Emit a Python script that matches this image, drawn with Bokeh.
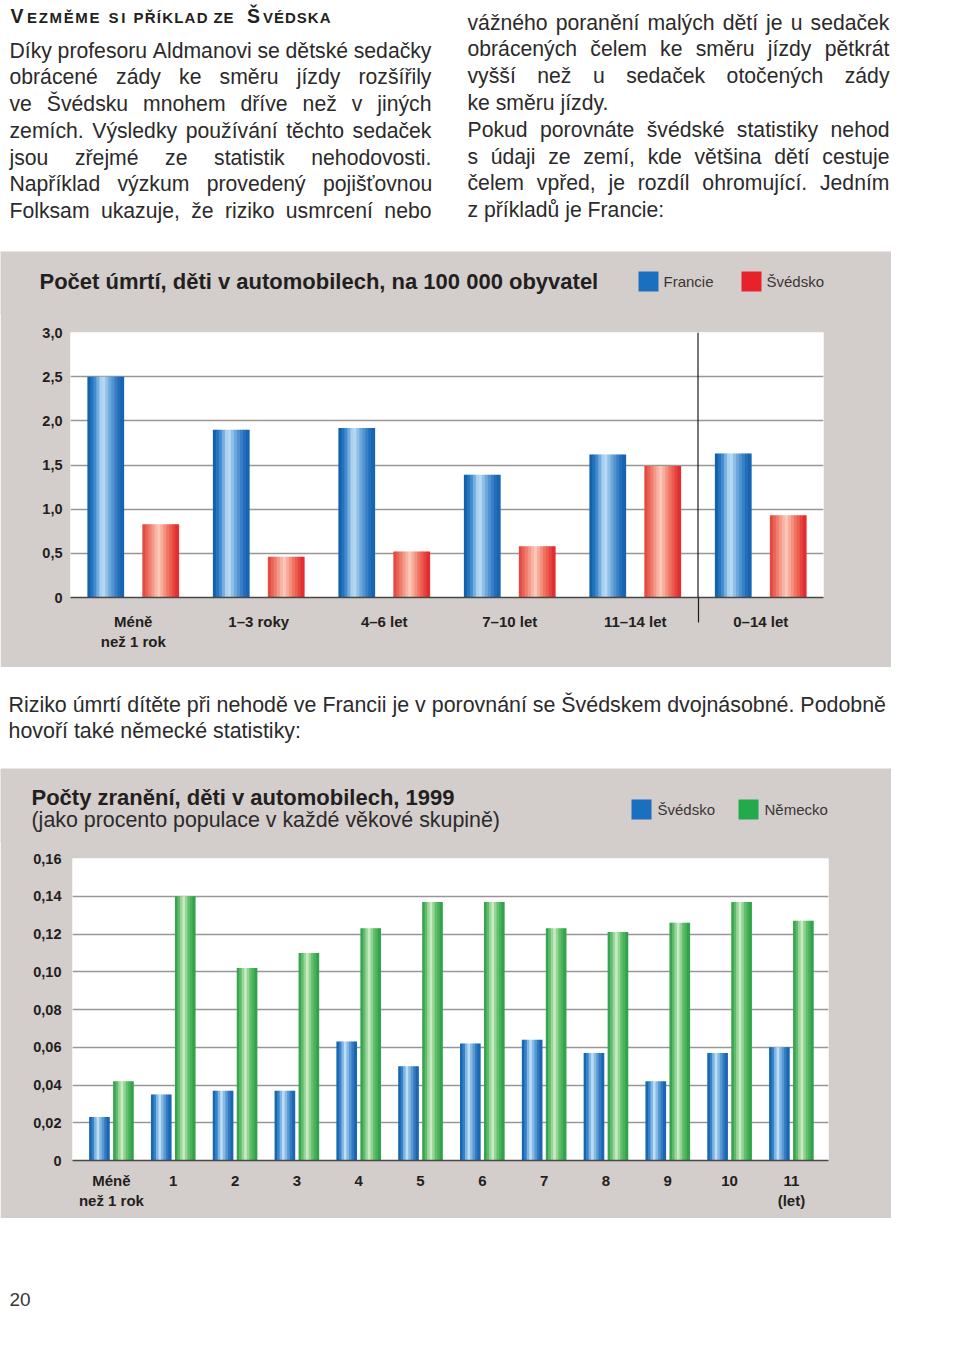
import unicodedata
from bokeh.plotting import figure
from bokeh.models import Range1d, FixedTicker, Span
from bokeh.core.properties import value
from bokeh.embed import file_html
from bokeh.resources import INLINE

# ------------------------------------------------------------------ data
heading_parts = ["V", "EZMĚME", "SI", "PŘÍKLAD", "ZE", "Š", "VÉDSKA"]
heading_big = [True, False, False, False, False, True, False]

left_lines = [
    "Díky profesoru Aldmanovi se dětské sedačky",
    "obrácené zády ke směru jízdy rozšířily",
    "ve Švédsku mnohem dříve než v jiných",
    "zemích. Výsledky používání těchto sedaček",
    "jsou zřejmé ze statistik nehodovosti.",
    "Například výzkum provedený pojišťovnou",
    "Folksam ukazuje, že riziko usmrcení nebo",
]
left_justify = [True, True, True, True, True, True, True]

right_lines = [
    "vážného poranění malých dětí je u sedaček",
    "obrácených čelem ke směru jízdy pětkrát",
    "vyšší než u sedaček otočených zády",
    "ke směru jízdy.",
    "Pokud porovnáte švédské statistiky nehod",
    "s údaji ze zemí, kde většina dětí cestuje",
    "čelem vpřed, je rozdíl ohromující. Jedním",
    "z příkladů je Francie:",
]
right_justify = [True, True, True, False, True, True, True, False]

middle_lines = [
    "Riziko úmrtí dítěte při nehodě ve Francii je v porovnání se Švédskem dvojnásobné. Podobně",
    "hovoří také německé statistiky:",
]
page_number = "20"

c1_title = "Počet úmrtí, děti v automobilech, na 100 000 obyvatel"
c1_categories = ["Méně\nnež 1 rok", "1–3 roky", "4–6 let", "7–10 let", "11–14 let", "0–14 let"]
c1_series = ["Francie", "Švédsko"]
c1_francie = [2.50, 1.90, 1.92, 1.39, 1.62, 1.63]
c1_svedsko = [0.83, 0.46, 0.52, 0.58, 1.49, 0.93]
c1_yticks = [0.0, 0.5, 1.0, 1.5, 2.0, 2.5, 3.0]
c1_ylabels = ["0", "0,5", "1,0", "1,5", "2,0", "2,5", "3,0"]
c1_separator = 5.0   # boundary between age groups and the 0–14 total

c2_title = "Počty zranění, děti v automobilech, 1999"
c2_subtitle = "(jako procento populace v každé věkové skupině)"
c2_categories = ["Méně\nnež 1 rok", "1", "2", "3", "4", "5", "6", "7", "8", "9", "10", "11\n(let)"]
c2_series = ["Švédsko", "Německo"]
c2_svedsko = [0.023, 0.035, 0.037, 0.037, 0.063, 0.050, 0.062, 0.064, 0.057, 0.042, 0.057, 0.060]
c2_nemecko = [0.042, 0.140, 0.102, 0.110, 0.123, 0.137, 0.137, 0.123, 0.121, 0.126, 0.137, 0.127]
c2_yticks = [0.0, 0.02, 0.04, 0.06, 0.08, 0.10, 0.12, 0.14, 0.16]
c2_ylabels = ["0", "0,02", "0,04", "0,06", "0,08", "0,10", "0,12", "0,14", "0,16"]

# ------------------------------------------------------------------ styles
FONT_NAME = "Liberation Sans"
FONT = value(FONT_NAME)
TEXT_COL = "#2c2a2a"
DARK = "#231f20"
PANEL = "#d3cdcb"
GRID = "#9a9696"
AXIS = "#4a4646"
BLUE = "#1a6fbf"
RED = "#e8222b"
GREEN = "#22aa4c"
BLUE_STOPS = [(0.0, "#0b58a3"), (0.18, "#2f7fc8"), (0.42, "#c6e3f8"), (0.62, "#6ea9dc"), (0.85, "#2571bd"), (1.0, "#125fab")]
RED_STOPS = [(0.0, "#e23c38"), (0.2, "#ef7a6a"), (0.45, "#fccbbd"), (0.72, "#f0705c"), (1.0, "#e0212a")]
GREEN_STOPS = [(0.0, "#279843"), (0.2, "#62bd6c"), (0.42, "#cfeeca"), (0.68, "#63c06c"), (1.0, "#279b44")]

REG = {" ": 278, ",": 278, ".": 278, ":": 278, "(": 333, ")": 333, "–": 556, "-": 333,
       "A": 667, "B": 667, "C": 722, "D": 722, "E": 667, "F": 611, "G": 778, "H": 722, "I": 278,
       "J": 500, "K": 667, "L": 556, "M": 833, "N": 722, "O": 778, "P": 667, "Q": 778, "R": 722,
       "S": 667, "T": 611, "U": 722, "V": 667, "W": 944, "X": 667, "Y": 667, "Z": 611,
       "a": 556, "b": 556, "c": 500, "d": 556, "e": 556, "f": 278, "g": 556, "h": 556, "i": 222,
       "j": 222, "k": 500, "l": 222, "m": 833, "n": 556, "o": 556, "p": 556, "q": 556, "r": 333,
       "s": 500, "t": 278, "u": 556, "v": 500, "w": 722, "x": 500, "y": 500, "z": 500,
       "í": 278, "ť": 340, "ď": 600}
BOLD = {"A": 722, "B": 722, "C": 722, "D": 722, "E": 667, "F": 611, "G": 778, "H": 722, "I": 278,
        "J": 556, "K": 722, "L": 611, "M": 833, "N": 722, "O": 778, "P": 667, "Q": 778, "R": 722,
        "S": 667, "T": 611, "U": 722, "V": 667, "W": 944, "X": 667, "Y": 667, "Z": 611, " ": 278}


def char_w(ch, table):
    if ch in table:
        return table[ch]
    base = unicodedata.normalize("NFD", ch)[0]
    return table.get(base, 556)


def spread(tokens, x0, x1, size, table):
    ws = [sum(char_w(c, table) for c in t) * size / 1000.0 for t in tokens]
    if len(tokens) == 1:
        return [x0]
    gap = (x1 - x0 - sum(ws)) / (len(tokens) - 1)
    xs, x = [], x0
    for w in ws:
        xs.append(x)
        x += w + gap
    return xs


def hexrgb(h):
    return tuple(int(h[i:i + 2], 16) for i in (1, 3, 5))


def grad(stops, t):
    for (t0, c0), (t1, c1) in zip(stops[:-1], stops[1:]):
        if t0 <= t <= t1:
            f = (t - t0) / (t1 - t0)
            a, b = hexrgb(c0), hexrgb(c1)
            return "#%02x%02x%02x" % tuple(int(round(a[i] + (b[i] - a[i]) * f)) for i in range(3))
    return stops[-1][1]


def page_fig(x0, x1, y0, y1, bg="white"):
    f = figure(width=int(x1 - x0), height=int(y1 - y0), x_range=Range1d(x0, x1), y_range=Range1d(y1, y0),
               output_backend="svg", toolbar_location=None, x_axis_type=None, y_axis_type=None,
               min_border=0, min_border_left=0, min_border_right=0, min_border_top=0, min_border_bottom=0,
               background_fill_color=bg, border_fill_color=bg, outline_line_color=None)
    f.grid.visible = False
    return f


def txt(f, x, y, s, size, color=TEXT_COL, style="normal", align="left"):
    f.text(x=x if isinstance(x, list) else [x], y=y if isinstance(y, list) else [y],
           text=s if isinstance(s, list) else [s], text_font=FONT, text_font_size=value(f"{size}px"),
           text_font_style=style, text_color=color, text_baseline="alphabetic", text_align=align)


def bars(p, xs, tops, width, stops, n=12):
    for k in range(n):
        t = (k + 0.5) / n
        off = (t - 0.5) * width
        p.vbar(x=[x + off for x in xs], top=tops, bottom=0, width=width / n * 1.25,
               fill_color=grad(stops, t), line_color=None)


PAGE_W = 940

# ------------------------------------------------------------------ top text
BODY = 21.2
top = page_fig(0, PAGE_W, 0, 251)
head_pos = [(10, None), (26.5, 99), (108, 125), (133, 207), (213, 233), (246.5, None), (262.5, 330)]
for part, big, (hx0, hx1) in zip(heading_parts, heading_big, head_pos):
    if big:
        txt(top, hx0, 15.5, part, 19.5, DARK, "bold")
    else:
        xs = spread(list(part), hx0, hx1, 15, BOLD)
        txt(top, xs, [17.2] * len(xs), list(part), 15, DARK, "bold")

left_y = [49.5, 76.3, 103.0, 129.8, 156.6, 183.4, 210.2]
right_y = [21.5, 48.3, 75.1, 101.9, 128.7, 155.5, 182.3, 209.2]
for lines, jus, ys, lx0, lx1 in [(left_lines, left_justify, left_y, 9, 431),
                                  (right_lines, right_justify, right_y, 467, 889)]:
    for line, j, b in zip(lines, jus, ys):
        if j:
            words = line.split(" ")
            xs = spread(words, lx0, lx1, BODY, REG)
            txt(top, xs, [b] * len(xs), words, BODY)
        else:
            txt(top, lx0, b, line, BODY)

# ------------------------------------------------------------------ chart 1
t1 = page_fig(0, 891, 251, 314, PANEL)
txt(t1, 39, 281, c1_title, 22, DARK, "bold")
for (sx, col), name in zip([(638, BLUE), (741, RED)], c1_series):
    t1.quad(left=[sx], right=[sx + 20], top=[271], bottom=[291], fill_color=col, line_color=None)
    txt(t1, sx + 25, 281, name, 15, "#3a3636")

p1 = figure(width=891, height=355, x_range=Range1d(0, 6), y_range=Range1d(0, 3.0),
            output_backend="svg", toolbar_location=None,
            min_border_left=70, min_border_right=68, min_border_top=20, min_border_bottom=70,
            background_fill_color="white", border_fill_color=PANEL, outline_line_color=None)
p1.margin = (-2, 0, 0, 0)
centers1 = [i + 0.5 for i in range(len(c1_categories))]
bw1 = 0.287
bars(p1, [c - 0.219 for c in centers1], c1_francie, bw1, BLUE_STOPS)
bars(p1, [c + 0.219 for c in centers1], c1_svedsko, bw1, RED_STOPS)
p1.add_layout(Span(location=c1_separator, dimension="height", line_color="#1e1c1c", line_width=1.2))

p1.yaxis.ticker = FixedTicker(ticks=c1_yticks)
p1.yaxis.major_label_overrides = dict(zip(c1_yticks, c1_ylabels))
p1.xaxis.ticker = FixedTicker(ticks=centers1, minor_ticks=[c1_separator])
p1.xaxis.major_label_overrides = dict(zip(centers1, c1_categories))

# ------------------------------------------------------------------ middle text
mid = page_fig(0, PAGE_W, 667, 768)
txt(mid, 8, 704.5, middle_lines[0], 21.4)
txt(mid, 8, 730.5, middle_lines[1], 21.4)

# ------------------------------------------------------------------ chart 2
t2 = page_fig(0, 891, 768, 842, PANEL)
txt(t2, 31, 797, c2_title, 22, DARK, "bold")
txt(t2, 31, 819.5, c2_subtitle, 21.4, "#2c2a2a")
for (sx, col), name in zip([(631, BLUE), (738, GREEN)], c2_series):
    t2.quad(left=[sx], right=[sx + 20], top=[799], bottom=[819], fill_color=col, line_color=None)
    txt(t2, sx + 26, 809, name, 15, "#3a3636")

p2 = figure(width=891, height=378, x_range=Range1d(-0.63, 11.6), y_range=Range1d(0, 0.16),
            output_backend="svg", toolbar_location=None,
            min_border_left=72, min_border_right=63, min_border_top=18, min_border_bottom=58,
            background_fill_color="white", border_fill_color=PANEL, outline_line_color=None)
p2.margin = (-2, 0, 0, 0)
centers2 = [float(i) for i in range(len(c2_categories))]
bw2 = 0.324
bars(p2, [c - 0.194 for c in centers2], c2_svedsko, bw2, BLUE_STOPS, n=8)
bars(p2, [c + 0.194 for c in centers2], c2_nemecko, bw2, GREEN_STOPS, n=8)
p2.yaxis.ticker = FixedTicker(ticks=c2_yticks)
p2.yaxis.major_label_overrides = dict(zip(c2_yticks, c2_ylabels))
p2.xaxis.ticker = FixedTicker(ticks=centers2)
p2.xaxis.major_label_overrides = dict(zip(centers2, c2_categories))

for p, ystand, xstand in [(p1, 8, -10), (p2, 11, 11)]:
    p.xgrid.visible = False
    p.ygrid.grid_line_color = GRID
    p.ygrid.grid_line_width = 1.5
    for ax in (p.xaxis[0], p.yaxis[0]):
        ax.major_label_text_font = FONT_NAME
        ax.major_label_text_font_style = "bold"
        ax.major_label_text_color = DARK
        ax.major_tick_line_color = None
        ax.major_tick_in = 0
        ax.major_tick_out = 0
    p.xaxis.major_label_text_font_size = "15px"
    p.yaxis.major_label_text_font_size = "14.5px"
    p.yaxis.axis_line_color = None
    p.yaxis.minor_tick_line_color = None
    p.yaxis.major_label_standoff = ystand
    p.xaxis.major_label_standoff = xstand
    p.xaxis.axis_line_color = AXIS
    p.xaxis.axis_line_width = 1.5

p1.xaxis.minor_tick_line_color = "#1e1c1c"
p1.xaxis.minor_tick_line_width = 1.2
p1.xaxis.minor_tick_in = 0
p1.xaxis.minor_tick_out = 25
p2.xaxis.minor_tick_line_color = None

# ------------------------------------------------------------------ bottom
bot = page_fig(0, PAGE_W, 1218, 1340)
txt(bot, 9, 1298.5, page_number, 19, "#3a3636")

# separate roots, stacked vertically (no frame alignment between them)
open("out.html", "w").write(file_html([top, t1, p1, mid, t2, p2, bot], INLINE))
